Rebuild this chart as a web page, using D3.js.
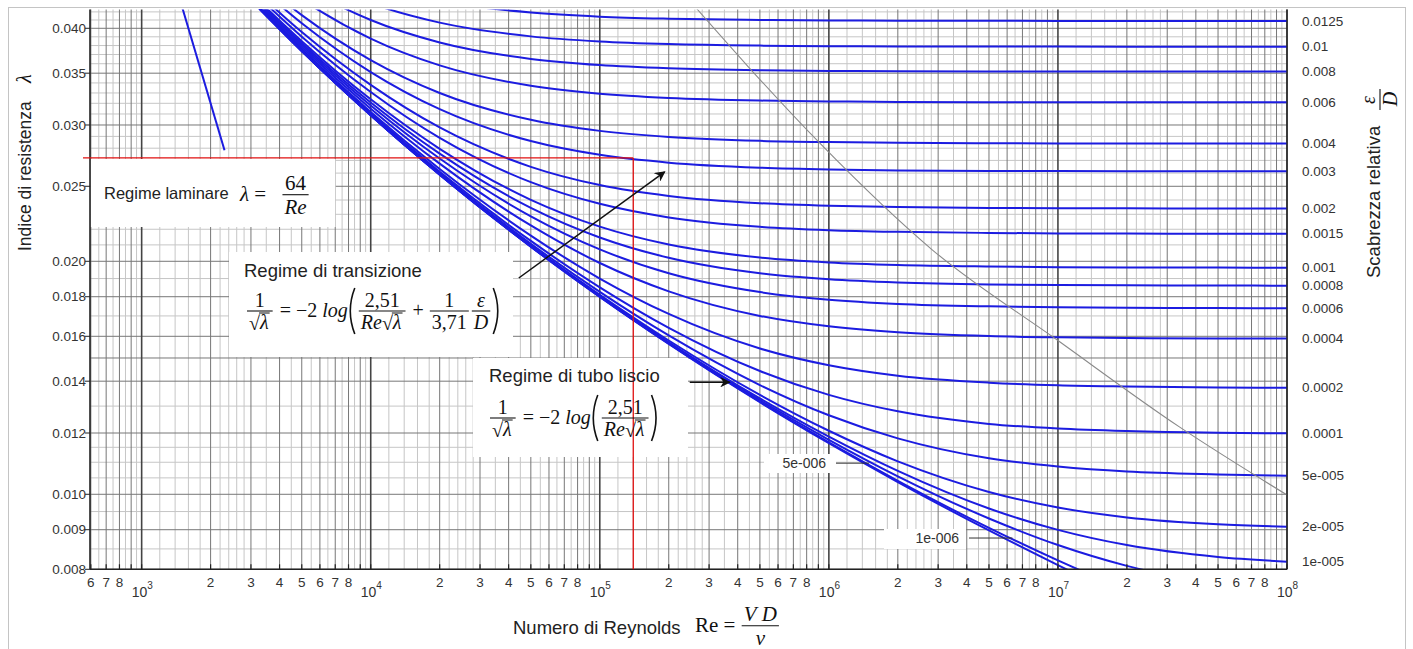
<!DOCTYPE html>
<html>
<head>
<meta charset="utf-8">
<script src="https://cdn.jsdelivr.net/npm/d3@7"></script>
<style>
  body { margin: 0; background: #fff; }
  svg { display: block; font-family: "Liberation Sans", Arial, sans-serif; }
  .tick-label { font-size: 13.5px; fill: #333; }
  .math { font-family: "Liberation Serif", "Times New Roman", serif; fill: #111; }
  .note { font-size: 18.5px; fill: #222; }
</style>
</head>
<body>
<svg id="chart" width="1413" height="649"></svg>
<script>
// ---- data ----
const reGrid = [3e3, 5e3, 1e4, 2e4, 5e4, 1e5, 2e5, 5e5, 1e6, 2e6, 5e6, 1e7, 2e7, 5e7, 1e8];

const lamSmooth = [0.04351, 0.03738, 0.03088, 0.02588, 0.02089, 0.01799, 0.01564, 0.01315, 0.01164, 0.01037, 0.00898, 0.00810, 0.00734, 0.00649, 0.00594];
const lam1e6   = [0.04351, 0.03738, 0.03088, 0.02588, 0.02089, 0.01800, 0.01565, 0.01317, 0.01167, 0.01041, 0.009049, 0.008214, 0.007523, 0.006817, 0.006433];
const lam5e6   = [0.04351, 0.03739, 0.03089, 0.02589, 0.02091, 0.01802, 0.01568, 0.01323, 0.01176, 0.01055, 0.009306, 0.008599, 0.008082, 0.007651, 0.007468];
const lam1e5   = [0.04352, 0.03741, 0.03090, 0.02591, 0.02093, 0.01804, 0.01572, 0.01330, 0.01187, 0.01072, 0.009586, 0.008995, 0.008598, 0.008299, 0.008184];
const lam2e5   = [0.04354, 0.03742, 0.03092, 0.02593, 0.02096, 0.01810, 0.01580, 0.01344, 0.01208, 0.01103, 0.01007, 0.009613, 0.009336, 0.009147, 0.009079];
const lam5e5   = [0.04357, 0.03745, 0.03096, 0.02599, 0.02107, 0.01826, 0.01604, 0.01384, 0.01265, 0.01181, 0.01113, 0.01086, 0.01070, 0.01061, 0.01057];
const lam1e4   = [0.04361, 0.03751, 0.03104, 0.02610, 0.02125, 0.01851, 0.01641, 0.01443, 0.01344, 0.01280, 0.01233, 0.01216, 0.01207, 0.01201, 0.01199];
const lam2e4   = [0.04370, 0.03762, 0.03119, 0.02632, 0.02159, 0.01900, 0.01710, 0.01543, 0.01468, 0.01423, 0.01394, 0.01383, 0.01378, 0.01374, 0.01373];
const lam4e4   = [0.04388, 0.03783, 0.03149, 0.02674, 0.02225, 0.01990, 0.01829, 0.01700, 0.01648, 0.01619, 0.01601, 0.01595, 0.01592, 0.01590, 0.01589];
const lam6e4   = [0.04406, 0.03806, 0.03179, 0.02715, 0.02286, 0.02072, 0.01930, 0.01825, 0.01784, 0.01762, 0.01749, 0.01744, 0.01742, 0.01740, 0.01739];
const lam8e4   = [0.04422, 0.03827, 0.03208, 0.02755, 0.02345, 0.02147, 0.02021, 0.01930, 0.01896, 0.01878, 0.01867, 0.01864, 0.01862, 0.01861, 0.01860];
const lam1e3   = [0.04440, 0.03850, 0.03238, 0.02795, 0.02401, 0.02217, 0.02102, 0.02022, 0.01993, 0.01978, 0.01969, 0.01965, 0.01964, 0.01963, 0.01962];
const lam15e4  = [0.04485, 0.03902, 0.03310, 0.02888, 0.02531, 0.02373, 0.02279, 0.02216, 0.02194, 0.02183, 0.02176, 0.02173, 0.02172, 0.02171, 0.02171];
const lam2e3   = [0.04529, 0.03955, 0.03380, 0.02978, 0.02649, 0.02509, 0.02429, 0.02377, 0.02359, 0.02350, 0.02344, 0.02342, 0.02341, 0.02340, 0.02340];
const lam3e3   = [0.04617, 0.04061, 0.03512, 0.03145, 0.02860, 0.02745, 0.02682, 0.02642, 0.02628, 0.02621, 0.02617, 0.02616, 0.02615, 0.02614, 0.02614];
const lam4e3   = [0.04701, 0.04160, 0.03639, 0.03300, 0.03047, 0.02948, 0.02895, 0.02862, 0.02851, 0.02845, 0.02842, 0.02840, 0.02839, 0.02839, 0.02839];
const lam6e3   = [0.04862, 0.04358, 0.03879, 0.03582, 0.03371, 0.03292, 0.03251, 0.03226, 0.03218, 0.03213, 0.03211, 0.03210, 0.03209, 0.03209, 0.03209];
const lam8e3   = [0.05025, 0.04544, 0.04100, 0.03835, 0.03652, 0.03586, 0.03552, 0.03531, 0.03524, 0.03520, 0.03518, 0.03517, 0.03517, 0.03517, 0.03517];
const lam1e2   = [0.05187, 0.04724, 0.04310, 0.04068, 0.03905, 0.03847, 0.03817, 0.03799, 0.03793, 0.03790, 0.03788, 0.03788, 0.03787, 0.03787, 0.03787];
const lam125e4 = [0.05376, 0.04940, 0.04556, 0.04337, 0.04192, 0.04141, 0.04116, 0.04100, 0.04095, 0.04092, 0.04090, 0.04089, 0.04089, 0.04089, 0.04089];

// right-hand labels, same order as roughCurves
const roughLabels = ["0.0125", "0.01", "0.008", "0.006", "0.004", "0.003", "0.002", "0.0015", "0.001",
  "0.0008", "0.0006", "0.0004", "0.0002", "0.0001", "5e-005", "2e-005", "1e-005"];
const roughCurves = [lam125e4, lam1e2, lam8e3, lam6e3, lam4e3, lam3e3, lam2e3, lam15e4, lam1e3,
  lam8e4, lam6e4, lam4e4, lam2e4, lam1e4, lam5e5, lam2e5, lam1e5];

const laminarRe = [1400, 2300];
const laminarLam = [0.04571, 0.02783];

const boundaryRe = [2.65e5, 4.38e5, 9.11e5, 2.835e6, 1.0e7, 3.39e7, 1e8];
const boundaryLam = [0.0424, 0.03586, 0.02844, 0.02068, 0.0158, 0.01222, 0.00998];

const markRe = 1.4e5, markLam = 0.0272;

const yTicks = [0.008, 0.009, 0.010, 0.012, 0.014, 0.016, 0.018, 0.020, 0.025, 0.030, 0.035, 0.040];
const yMajorExtra = [0.015];
const yMinor = [0.0085, 0.0095, 0.0105, 0.011, 0.0115, 0.013, 0.017, 0.019, 0.021, 0.022, 0.023, 0.024,
  0.026, 0.027, 0.028, 0.029, 0.031, 0.032, 0.033, 0.034, 0.036, 0.037, 0.038, 0.039, 0.041, 0.042];
const xDecadeBases = [100, 1e3, 1e4, 1e5, 1e6, 1e7];
const xDecades = [1e3, 1e4, 1e5, 1e6, 1e7, 1e8];
const xDecadeExp = ["3", "4", "5", "6", "7", "8"];
const xSteps = [2, 3, 4, 5, 6, 7, 8, 9];
const xLabelSteps = [2, 3, 4, 5, 6, 7, 8];
const xMinorSteps = [1.2, 1.4, 1.6, 1.8, 2.2, 2.4, 2.6, 2.8, 3.5, 4.5, 5.5, 6.5, 7.5, 8.5, 9.5];

// ---- layout ----
const svg = d3.select('#chart');
const plotL = 90, plotR = 1287, plotT = 9.5, plotB = 569.3;

const x = d3.scaleLog().domain([595, 1e8]).range([plotL, plotR]);
const y = d3.scaleLog().domain([0.008, 0.0423]).range([plotB, plotT]);

// outer frame
svg.append('rect')
  .attr('x', 8.5).attr('y', 7.5).attr('width', 1397).attr('height', 700)
  .attr('fill', 'none').attr('stroke', '#c4c4c4');

svg.append('clipPath').attr('id', 'plot-clip')
  .append('rect').attr('x', plotL).attr('y', plotT).attr('width', plotR - plotL).attr('height', plotB - plotT);

const grid = svg.append('g');
const inDomain = v => v >= 595 && v <= 1e8;

const minorX = [], unitX = [];
xDecadeBases.forEach(b => {
  xMinorSteps.forEach(s => { if (inDomain(s * b)) minorX.push(s * b); });
  xSteps.forEach(s => { if (inDomain(s * b)) unitX.push(s * b); });
});

function vLines(vals, color, w) {
  grid.selectAll(null).data(vals).enter().append('line')
    .attr('x1', d => x(d)).attr('x2', d => x(d))
    .attr('y1', plotT).attr('y2', plotB)
    .attr('stroke', color).attr('stroke-width', w);
}
function hLines(vals, color, w) {
  grid.selectAll(null).data(vals).enter().append('line')
    .attr('x1', plotL).attr('x2', plotR)
    .attr('y1', d => y(d)).attr('y2', d => y(d))
    .attr('stroke', color).attr('stroke-width', w);
}
vLines(minorX, '#c6c6c6', 1);
hLines(yMinor, '#c6c6c6', 1);
vLines(unitX, '#777', 1);
hLines(yTicks.concat(yMajorExtra), '#777', 1);
vLines(xDecades, '#444', 1.6);

// white annotation boxes over the grid
const boxes = [
  { x: 90.5, y: 159, w: 245, h: 68 },
  { x: 229, y: 252, w: 284, h: 105 },
  { x: 473, y: 358, w: 215, h: 99 },
  { x: 764, y: 454, w: 72, h: 19 },
  { x: 884, y: 529, w: 82, h: 20 }
];
svg.append('g').selectAll('rect').data(boxes).enter().append('rect')
  .attr('x', d => d.x).attr('y', d => d.y).attr('width', d => d.w).attr('height', d => d.h)
  .attr('fill', '#fff');

// curves
const curveGroup = svg.append('g').attr('clip-path', 'url(#plot-clip)');
const line = d3.line()
  .x(d => x(d[0]))
  .y(d => y(d[1]))
  .curve(d3.curveMonotoneX);

const allCurves = roughCurves.concat([lam5e6, lam1e6, lamSmooth]);
curveGroup.selectAll('path.moody').data(allCurves).enter().append('path')
  .attr('class', 'moody')
  .attr('d', vals => line(vals.map((v, i) => [reGrid[i], v])))
  .attr('fill', 'none').attr('stroke', '#1c1ce0').attr('stroke-width', 2);

// laminar line
curveGroup.append('path')
  .attr('d', d3.line().x(d => x(d[0])).y(d => y(d[1]))(laminarRe.map((r, i) => [r, laminarLam[i]])))
  .attr('fill', 'none').attr('stroke', '#1c1ce0').attr('stroke-width', 2);

// boundary of the fully rough zone
curveGroup.append('path')
  .attr('d', line(boundaryRe.map((r, i) => [r, boundaryLam[i]])))
  .attr('fill', 'none').attr('stroke', '#8a8a8a').attr('stroke-width', 1.1);

// axes
const axes = svg.append('g').attr('stroke', '#222');
axes.append('line').attr('x1', plotL).attr('x2', plotL).attr('y1', plotT).attr('y2', plotB).attr('stroke-width', 1.6);
axes.append('line').attr('x1', plotL).attr('x2', plotR).attr('y1', plotB).attr('y2', plotB).attr('stroke-width', 1.6);
axes.append('line').attr('x1', plotR).attr('x2', plotR).attr('y1', plotT).attr('y2', plotB).attr('stroke-width', 1.3);
axes.selectAll(null).data(yTicks).enter().append('line')
  .attr('x1', plotL - 5).attr('x2', plotL).attr('y1', d => y(d)).attr('y2', d => y(d)).attr('stroke-width', 1);
axes.selectAll(null).data(unitX.concat(xDecades)).enter().append('line')
  .attr('x1', d => x(d)).attr('x2', d => x(d)).attr('y1', plotB - 5).attr('y2', plotB).attr('stroke-width', 1.2);

// y tick labels
svg.append('g').selectAll('text').data(yTicks).enter().append('text')
  .attr('class', 'tick-label')
  .attr('x', plotL - 4).attr('y', d => y(d)).attr('dy', '0.35em')
  .attr('text-anchor', 'end')
  .text(d => d3.format('.3f')(d));

// x tick labels
const xLab = svg.append('g');
const stepLabels = [];
xDecadeBases.forEach(b => xLabelSteps.forEach(s => { if (inDomain(s * b)) stepLabels.push(s * b); }));
xLab.selectAll('text.step').data(stepLabels).enter().append('text')
  .attr('class', 'tick-label step')
  .attr('x', d => x(d)).attr('y', plotB + 18)
  .attr('text-anchor', 'middle')
  .text(d => Math.round(d / Math.pow(10, Math.floor(Math.log10(d) + 1e-9))));
xDecades.forEach((d, i) => {
  const t = xLab.append('text').attr('class', 'tick-label')
    .attr('x', x(d) - 10).attr('y', plotB + 28).style('font-size', '14px');
  t.append('tspan').text('10');
  t.append('tspan').attr('dy', -8).style('font-size', '10px').text(xDecadeExp[i]);
});

// right-hand roughness labels
svg.append('g').selectAll('text').data(roughLabels).enter().append('text')
  .attr('class', 'tick-label')
  .attr('x', plotR + 15)
  .attr('y', (d, i) => y(roughCurves[i][reGrid.length - 1]))
  .attr('dy', '0.35em')
  .text(d => d);

// red reference lines
const red = svg.append('g').attr('stroke', '#e01010').attr('stroke-width', 1.3);
red.append('line').attr('x1', plotL - 7).attr('x2', x(markRe)).attr('y1', y(markLam)).attr('y2', y(markLam));
red.append('line').attr('x1', x(markRe)).attr('x2', x(markRe)).attr('y1', y(markLam)).attr('y2', plotB);

// labels for the two smallest roughness curves
const innerLabels = [
  { text: '5e-006', re: 1.5e6, lam: 0.01097, tx: 826 },
  { text: '1e-006', re: 6.33e6, lam: 0.00878, tx: 959 }
];
innerLabels.forEach(d => {
  svg.append('text').attr('class', 'tick-label').style('font-size', '14px')
    .attr('x', d.tx).attr('y', y(d.lam)).attr('dy', '0.35em')
    .attr('text-anchor', 'end').text(d.text);
  svg.append('line').attr('x1', d.tx + 10).attr('x2', x(d.re)).attr('y1', y(d.lam)).attr('y2', y(d.lam))
    .attr('stroke', '#333').attr('stroke-width', 1);
});

// arrows
svg.append('defs').append('marker')
  .attr('id', 'arrow').attr('viewBox', '0 0 10 10').attr('refX', 9).attr('refY', 5)
  .attr('markerWidth', 7).attr('markerHeight', 7).attr('orient', 'auto-start-reverse')
  .append('path').attr('d', 'M0,0 L10,5 L0,10 L3,5 Z').attr('fill', '#111');
const arrows = [
  { re0: 4.43e4, lam0: 0.01903, re1: 1.92e5, lam1: 0.0261 },
  { re0: 2.47e5, lam0: 0.01396, re1: 3.69e5, lam1: 0.01396 }
];
svg.append('g').selectAll('line').data(arrows).enter().append('line')
  .attr('x1', d => x(d.re0)).attr('y1', d => y(d.lam0))
  .attr('x2', d => x(d.re1)).attr('y2', d => y(d.lam1))
  .attr('stroke', '#111').attr('stroke-width', 1.5)
  .attr('marker-end', 'url(#arrow)');

// ---- small formula layout helpers ----
function row(g, x0, y0, items, size) {
  let cx = x0;
  items.forEach(it => { cx += put(g, cx, y0, it, size); });
  return cx - x0;
}
function put(g, x0, y0, it, size) {
  if (typeof it === 'string' || it.i !== undefined) {
    const t = g.append('text').attr('class', 'math').attr('x', x0).attr('y', y0)
      .style('font-size', size + 'px')
      .style('font-style', typeof it === 'string' ? 'normal' : 'italic')
      .attr('xml:space', 'preserve')
      .text(typeof it === 'string' ? it : it.i);
    return t.node().getComputedTextLength();
  }
  if (it.gap !== undefined) return it.gap;
  if (it.sqrt) {
    const wr = put(g, x0, y0 + 1, '√', size);
    const wb = row(g, x0 + wr, y0, it.sqrt, size);
    g.append('line').attr('x1', x0 + wr - 1).attr('x2', x0 + wr + wb + 1)
      .attr('y1', y0 - size * 0.8).attr('y2', y0 - size * 0.8)
      .attr('stroke', '#111').attr('stroke-width', 1);
    return wr + wb + 2;
  }
  if (it.frac) {
    const gn = g.append('g'), gd = g.append('g');
    const wn = row(gn, 0, 0, it.frac[0], size);
    const wd = row(gd, 0, 0, it.frac[1], size);
    const w = Math.max(wn, wd) + 4;
    const bar = y0 - size * 0.3;
    gn.attr('transform', `translate(${x0 + 1 + (w - wn) / 2},${bar - size * 0.22})`);
    gd.attr('transform', `translate(${x0 + 1 + (w - wd) / 2},${bar + size * 0.9})`);
    g.append('line').attr('x1', x0 + 1).attr('x2', x0 + 1 + w).attr('y1', bar).attr('y2', bar)
      .attr('stroke', '#111').attr('stroke-width', 1.1);
    return w + 3;
  }
  if (it.paren) {
    const mid = y0 - size * 0.3, h = it.h, wp = 7;
    const d = it.paren === '('
      ? `M${x0 + wp},${mid - h} Q${x0 - 2},${mid} ${x0 + wp},${mid + h}`
      : `M${x0 + 1},${mid - h} Q${x0 + wp + 3},${mid} ${x0 + 1},${mid + h}`;
    g.append('path').attr('d', d).attr('fill', 'none').attr('stroke', '#111').attr('stroke-width', 1.6);
    return wp + 3;
  }
  return 0;
}

const notes = svg.append('g');
const sqrtLam = { sqrt: [{ i: 'λ' }] };

// laminar
notes.append('text').attr('class', 'note').attr('x', 104).attr('y', 199).style('font-size', '16.5px').text('Regime laminare');
row(notes, 240, 201, [{ i: 'λ' }, ' = ', { gap: 10 }, { frac: [['64'], [{ i: 'Re' }]] }], 21);

// transition
notes.append('text').attr('class', 'note').attr('x', 244).attr('y', 277).text('Regime di transizione');
row(notes, 246, 317, [
  { frac: [['1'], [sqrtLam]] }, ' = −2 ', { i: 'log' },
  { paren: '(', h: 23 },
  { frac: [['2,51'], [{ i: 'Re' }, sqrtLam]] }, ' + ',
  { frac: [['1'], ['3,71']] }, { frac: [[{ i: 'ε' }], [{ i: 'D' }]] },
  { paren: ')', h: 23 }
], 20);

// smooth pipe
notes.append('text').attr('class', 'note').attr('x', 489).attr('y', 382).text('Regime di tubo liscio');
row(notes, 489, 424, [
  { frac: [['1'], [sqrtLam]] }, ' = −2 ', { i: 'log' },
  { paren: '(', h: 23 },
  { frac: [['2,51'], [{ i: 'Re' }, sqrtLam]] },
  { paren: ')', h: 23 }
], 20);

// axis titles
const yTitle = svg.append('g').attr('transform', 'translate(31,251) rotate(-90)');
yTitle.append('text').attr('class', 'note').style('font-size', '17.5px').attr('x', 0).attr('y', 0).text('Indice di resistenza');
yTitle.append('text').attr('class', 'math').attr('x', 168).attr('y', 0)
  .style('font-size', '20px').style('font-style', 'italic').text('λ');

const rTitle = svg.append('g').attr('transform', 'translate(1380,278) rotate(-90)');
rTitle.append('text').attr('class', 'note').attr('x', 0).attr('y', 0).text('Scabrezza relativa');
rTitle.append('text').attr('class', 'math').attr('x', 178).attr('y', -5).attr('text-anchor', 'middle')
  .style('font-size', '20px').style('font-style', 'italic').text('ε');
rTitle.append('line').attr('x1', 168).attr('x2', 189).attr('y1', 0).attr('y2', 0).attr('stroke', '#111').attr('stroke-width', 1.1);
rTitle.append('text').attr('class', 'math').attr('x', 179).attr('y', 17).attr('text-anchor', 'middle')
  .style('font-size', '20px').style('font-style', 'italic').text('D');

const xTitle = svg.append('g');
xTitle.append('text').attr('class', 'note').attr('x', 513).attr('y', 634).text('Numero di Reynolds');
row(xTitle, 695, 632, ['Re = ', { frac: [[{ i: 'V' }, ' ', { i: 'D' }], [{ i: 'ν' }]] }], 21);
</script>
</body>
</html>
